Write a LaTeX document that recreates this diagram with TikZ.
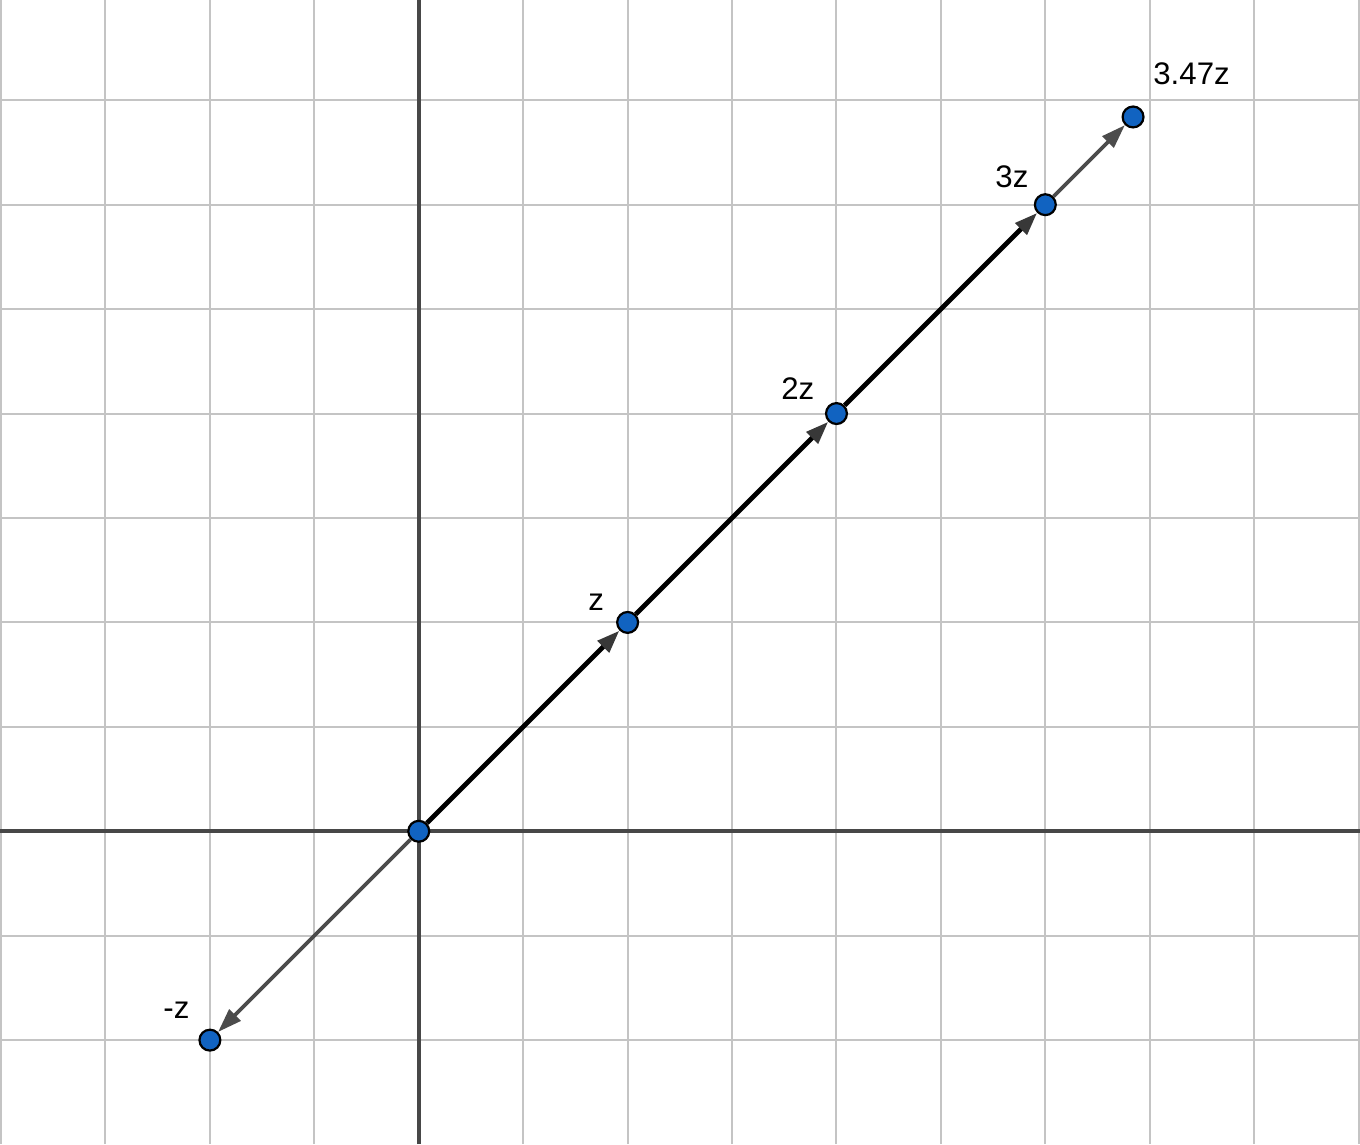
\documentclass[tikz,border=0pt]{standalone}
\usepackage{fontspec}
\setmainfont{Liberation Sans}
\usepackage{xcolor}
\usepackage{tikz}
\usetikzlibrary{calc, arrows.meta}

\definecolor{ptblue}{RGB}{17,99,193}

\begin{document}
\begin{tikzpicture}[
        pt/.style={circle, draw=black, line width=0.6pt, fill=ptblue, minimum size=0.2cm,
            inner sep=0pt},
        lab/.style={font=\fontsize{8.5}{10}\selectfont, text=black, inner sep=0pt},
        vec/.style={line width=1.3pt, black,
            -{Triangle[length=2.2mm, width=1.5mm, color=black!78]}},
        gvec/.style={line width=1pt, black!70,
            -{Triangle[length=2.3mm, width=1.5mm]}}
    ]
    \useasboundingbox (-4.01,-2.995) rectangle (9.013,7.96);
    \clip (-4.01,-2.995) rectangle (9.013,7.96);
    % grid and axes
    \draw[black!23, line width=0.55pt] (-4.01,-2.995) grid (9.013,7.96);
    \draw[black!72, line width=1.1pt] (-4.01,0) -- (9.013,0);
    \draw[black!72, line width=1.1pt] (0,-2.995) -- (0,7.96);
    % multiples of z
    \node[pt] (o) at (0,0) {};
    \node[pt] (z) at (2,2) {};
    \node[pt] (zz) at (4,4) {};
    \node[pt] (zzz) at (6,6) {};
    \node[pt] (zr) at (6.84,6.84) {};
    \node[pt] (mz) at (-2,-2) {};
    \node[lab] (zlab) at (1.70,2.19) {z};
    \node[lab] (zzlab) at (3.63,4.24) {2z};
    \node[lab] (zzzlab) at (5.68,6.27) {3z};
    \node[lab] (zrlab) at (7.40,7.25) {3.47z};
    \node[lab] (mzlab) at (-2.32,-1.71) {-z};
    \draw[vec] (o) -- (z);
    \draw[vec] (z) -- (zz);
    \draw[vec] (zz) -- (zzz);
    \draw[gvec] (zzz) -- (zr);
    \draw[gvec] (o) -- (mz);
\end{tikzpicture}
\end{document}
